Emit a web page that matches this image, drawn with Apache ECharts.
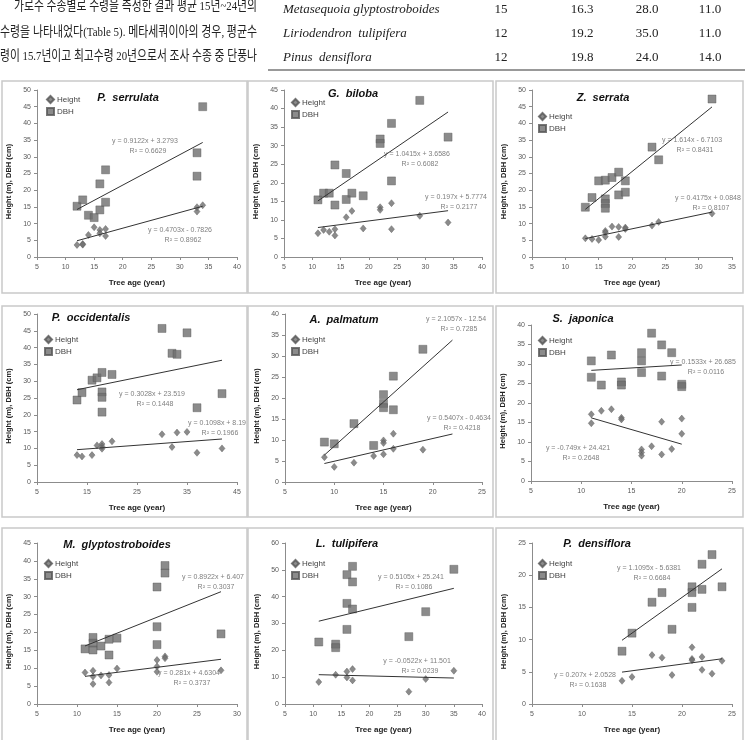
<!DOCTYPE html>
<html>
<head>
<meta charset="utf-8">
<script src="https://cdn.jsdelivr.net/npm/echarts@6/dist/echarts.min.js"></script>
<style>
  html, body { margin: 0; padding: 0; background: #fff; }
  #main { width: 745px; height: 740px; }
</style>
</head>
<body>
<div id="main"></div>
<script>
// tree age (year) -> height (m) and DBH (cm)
const serrulataHeight = [[12,3.6],[13,3.9],[13,3.7],[14,6.6],[15,8.9],[16,8.1],[16,7.1],[17,8.4],[17,6.3],[33,13.6],[33,14.9],[34,15.5]];
const serrulataDbh = [[12,15.2],[13,17.1],[14,12.5],[15,11.8],[16,14.1],[16,21.9],[17,16.4],[17,26.1],[33,31.2],[33,24.2],[34,45.0]];
const bilobaHeight = [[11,6.4],[12,7.3],[13,6.8],[14,7.5],[14,5.8],[16,10.7],[17,12.4],[19,7.7],[22,13.4],[22,12.7],[24,14.5],[24,7.5],[29,11.1],[34,9.3]];
const bilobaDbh = [[11,15.4],[12,17.2],[13,17.2],[14,14.0],[14,24.8],[16,22.5],[16,15.5],[17,17.2],[19,16.5],[22,31.8],[22,30.6],[24,36.0],[24,20.5],[29,42.2],[34,32.3]];
const serrataHeight = [[13,5.6],[14,5.4],[15,5.1],[16,7.8],[16,7.3],[16,6.1],[17,9.1],[18,9.0],[18,6.0],[19,8.8],[19,8.4],[23,9.4],[24,10.5],[32,13.0]];
const serrataDbh = [[13,14.9],[14,17.8],[15,22.8],[16,23.0],[16,17.4],[16,16.0],[16,14.6],[17,23.8],[18,25.4],[18,18.6],[19,22.8],[19,19.4],[23,32.9],[24,29.1],[32,47.3]];
const occidentalisHeight = [[13,8.0],[14,7.6],[16,8.0],[17,10.9],[18,11.3],[18,10.6],[18,9.9],[20,12.1],[30,14.2],[32,10.4],[33,14.7],[35,14.9],[37,8.7],[42,10.0]];
const occidentalisDbh = [[13,24.4],[14,26.6],[16,30.3],[17,31.0],[18,32.6],[18,26.8],[18,25.2],[18,20.8],[20,32.0],[30,45.7],[32,38.3],[33,38.0],[35,44.4],[37,22.1],[42,26.3]];
const palmatumHeight = [[9,5.9],[10,3.6],[12,4.6],[14,6.2],[15,6.6],[15,9.9],[15,9.3],[16,11.5],[16,7.9],[19,7.7]];
const palmatumDbh = [[9,9.5],[10,9.1],[12,13.9],[14,8.7],[15,20.8],[15,18.7],[15,17.7],[16,25.2],[16,17.2],[19,31.6]];
const japonicaHeight = [[11,17.1],[11,14.8],[12,18.0],[13,18.4],[14,16.2],[14,15.8],[16,8.1],[16,7.3],[16,6.5],[17,8.9],[18,15.2],[18,6.8],[19,8.2],[20,16.0],[20,12.1]];
const japonicaDbh = [[11,30.8],[11,26.6],[12,24.6],[13,32.3],[14,25.4],[14,24.6],[16,32.9],[16,30.8],[16,27.8],[17,37.9],[18,34.9],[18,26.9],[19,32.9],[20,24.8],[20,24.2]];
const glyptoHeight = [[11,8.8],[12,9.3],[12,7.7],[12,5.6],[13,8.0],[14,8.1],[14,6.0],[15,9.9],[20,12.3],[20,10.5],[20,9.0],[21,13.3],[21,12.8],[28,9.4]];
const glyptoDbh = [[11,15.4],[12,18.6],[12,17.0],[12,15.1],[13,16.2],[14,18.1],[14,13.7],[15,18.4],[20,32.7],[20,21.6],[20,16.6],[21,38.7],[21,36.6],[28,19.6]];
const tulipiferaHeight = [[11,8.2],[14,10.9],[16,12.1],[16,9.9],[17,13.0],[17,8.8],[27,4.6],[30,9.3],[35,12.4]];
const tulipiferaDbh = [[11,23.1],[14,22.3],[14,21.0],[16,48.2],[16,37.5],[16,27.8],[17,51.3],[17,45.5],[17,35.4],[27,25.1],[30,34.4],[35,50.2]];
const densifloraHeight = [[14,3.6],[15,4.2],[17,7.6],[18,7.2],[19,4.5],[21,8.8],[21,7.0],[21,6.8],[22,7.3],[22,5.3],[23,4.7],[24,6.7]];
const densifloraDbh = [[14,8.2],[15,11.0],[17,15.8],[18,17.3],[19,11.6],[21,18.2],[21,17.3],[21,15.0],[22,21.7],[22,17.8],[23,23.2],[24,18.2]];

const speciesNames = ['P.  serrulata', 'G.  biloba', 'Z.  serrata', 'P.  occidentalis', 'A.  palmatum',
  'S.  japonica', 'M.  glyptostroboides', 'L.  tulipifera', 'P.  densiflora'];

// printed linear trend lines (slope, intercept, R2)
const heightSlope = [0.4703, 0.197, 0.4175, 0.1098, 0.5407, -0.749, 0.281, -0.0522, 0.207];
const heightIntercept = [-0.7826, 5.7774, 0.0848, 8.19, -0.4634, 24.421, 4.6304, 11.501, 2.0528];
const heightR2 = ['0.8962', '0.2177', '0.8107', '0.1966', '0.4218', '0.2648', '0.3737', '0.0239', '0.1638'];
const dbhSlope = [0.9122, 1.0415, 1.614, 0.3028, 2.1057, 0.1533, 0.8922, 0.5105, 1.1095];
const dbhIntercept = [3.2793, 3.6586, -6.7103, 23.519, -12.54, 26.685, 6.407, 25.241, -5.6381];
const dbhR2 = ['0.6629', '0.6082', '0.8431', '0.1448', '0.7285', '0.0116', '0.3037', '0.1086', '0.6684'];
const trendEnd = [34, 34, 32, 42, 22, 20, 28, 35, 24];

// axis ranges
const ageMax = [40, 40, 35, 45, 25, 25, 30, 40, 25];
const ageStep = [5, 5, 5, 10, 5, 5, 5, 5, 5];
const valueMax = [50, 45, 50, 50, 40, 40, 45, 60, 25];
const valueStep = [5, 5, 5, 5, 5, 5, 5, 10, 5];

// page text above the figure
const bodyLines = ['가로수 수종별로 수령을 측정한 결과 평균 15년~24년의',
  '수령을 나타내었다(Table 5). 메타세쿼이아의 경우, 평균수',
  '령이 15.7년이고 최고수령 20년으로서 조사 수종 중 단풍나'];
const tableNames = ['Metasequoia glyptostroboides', 'Liriodendron  tulipifera', 'Pinus  densiflora'];
const tableCounts = ['15', '12', '12'];
const tableMeans = ['16.3', '19.2', '19.8'];
const tableMax = ['28.0', '35.0', '24.0'];
const tableMin = ['11.0', '11.0', '14.0'];

const heightSets = [serrulataHeight, bilobaHeight, serrataHeight, occidentalisHeight, palmatumHeight,
  japonicaHeight, glyptoHeight, tulipiferaHeight, densifloraHeight];
const dbhSets = [serrulataDbh, bilobaDbh, serrataDbh, occidentalisDbh, palmatumDbh,
  japonicaDbh, glyptoDbh, tulipiferaDbh, densifloraDbh];

// layout: plot areas [left, top, width, height], panel frames, labels
const plots = [
  [37, 90, 200, 167], [284, 90, 198, 167], [532, 90, 200, 167],
  [37, 314, 200, 168], [285, 314, 197, 168], [531, 325, 201, 156],
  [37, 543, 200, 161], [285, 543, 197, 161], [532, 543, 200, 161]
];
const frames = [
  [2, 81, 245, 212], [248, 81, 245, 212], [496, 81, 247, 212],
  [2, 306, 245, 211], [248, 306, 245, 211], [496, 306, 247, 211],
  [2, 528, 245, 220], [248, 528, 245, 220], [496, 528, 247, 220]
];
const titlePos = [[128, 98], [353, 94], [603, 98], [91, 318], [344, 320], [583, 319], [117, 545], [347, 544], [597, 544]];
const legendPos = [[46, 95], [291, 98], [538, 112], [44, 335], [291, 335], [538, 336], [44, 559], [291, 559], [538, 559]];
const dbhEqPos = [[145, 141], [417, 154], [692, 140], [152, 394], [456, 319], [703, 362], [213, 577], [411, 577], [649, 568]];
const heightEqPos = [[180, 230], [456, 197], [708, 198], [217, 423], [459, 418], [578, 448], [189, 673], [417, 661], [585, 675]];

const sans = '"Liberation Sans", Arial, sans-serif';
const markColor = '#6e6e6e';

function fmtEq(slope, intercept) {
  const sign = intercept < 0 ? ' - ' : ' + ';
  return 'y = ' + slope + 'x' + sign + Math.abs(intercept);
}

function text(x, y, str, font, fill, align, extra) {
  return Object.assign({
    type: 'text', x: x, y: y, silent: true,
    style: { text: str, font: font, fill: fill, align: align || 'center', verticalAlign: 'middle' }
  }, extra || {});
}

// justified body text: squeeze each line to the column width
const measureCtx = document.createElement('canvas').getContext('2d');
function fitScale(str, font, width) {
  measureCtx.font = font;
  return width / measureCtx.measureText(str).width;
}

const grid = [], xAxis = [], yAxis = [], series = [], legend = [], graphic = [];

for (let i = 0; i < 9; i++) {
  const p = plots[i];
  grid.push({ left: p[0], top: p[1], width: p[2], height: p[3], containLabel: false });
  xAxis.push({
    gridIndex: i, type: 'value', min: 5, max: ageMax[i], interval: ageStep[i],
    name: 'Tree age (year)', nameLocation: 'middle', nameGap: 22,
    nameTextStyle: { fontFamily: sans, fontWeight: 'bold', fontSize: 8, color: '#222' },
    axisLine: { onZero: false, lineStyle: { color: '#8c8c8c', width: 1 } },
    axisTick: { length: 3, lineStyle: { color: '#8c8c8c' } },
    axisLabel: { fontFamily: sans, fontSize: 7, color: '#595959', margin: 7 },
    splitLine: { show: false }
  });
  yAxis.push({
    gridIndex: i, type: 'value', min: 0, max: valueMax[i], interval: valueStep[i],
    axisLine: { show: true, lineStyle: { color: '#8c8c8c', width: 1 } },
    axisTick: { show: true, length: 3, lineStyle: { color: '#8c8c8c' } },
    axisLabel: { fontFamily: sans, fontSize: 7, color: '#595959', margin: 6 },
    splitLine: { show: false }
  });

  const hs = heightSets[i], ds = dbhSets[i];
  const startH = Math.min.apply(null, hs.map(d => d[0]));
  const startD = Math.min.apply(null, ds.map(d => d[0]));
  const end = trendEnd[i];

  series.push({
    name: 'DBH', type: 'scatter', xAxisIndex: i, yAxisIndex: i, data: ds,
    symbol: 'rect', symbolSize: 8, silent: true,
    itemStyle: { color: markColor, borderColor: '#555', borderWidth: 0.5 }
  });
  series.push({
    name: 'Height', type: 'scatter', xAxisIndex: i, yAxisIndex: i, data: hs,
    symbol: 'diamond', symbolSize: [6, 7], silent: true,
    itemStyle: { color: markColor, borderColor: '#555', borderWidth: 0.5 }
  });
  series.push({
    name: 'DBH trend', type: 'line', xAxisIndex: i, yAxisIndex: i, symbol: 'none', silent: true,
    data: [[startD, dbhSlope[i] * startD + dbhIntercept[i]], [end, dbhSlope[i] * end + dbhIntercept[i]]],
    lineStyle: { color: '#333', width: 1 }, z: 3
  });
  series.push({
    name: 'Height trend', type: 'line', xAxisIndex: i, yAxisIndex: i, symbol: 'none', silent: true,
    data: [[startH, heightSlope[i] * startH + heightIntercept[i]], [end, heightSlope[i] * end + heightIntercept[i]]],
    lineStyle: { color: '#333', width: 1 }, z: 3
  });

  legend.push({
    left: legendPos[i][0], top: legendPos[i][1], orient: 'vertical', selectedMode: false,
    itemWidth: 7, itemHeight: 7, itemGap: 3, padding: 0,
    textStyle: { fontFamily: sans, fontSize: 8, color: '#444', padding: [0, 0, 0, -2] },
    data: [{ name: 'Height', icon: 'diamond' }, { name: 'DBH', icon: 'rect' }]
  });

  const f = frames[i];
  graphic.push({
    type: 'rect', silent: true, z: -1,
    shape: { x: f[0], y: f[1], width: f[2], height: f[3] },
    style: { fill: 'none', stroke: '#c9c9c9', lineWidth: 1.5 }
  });
  // y-axis title, sitting a little below the plot centre as in the scan
  graphic.push(text(p[0] - 28, p[1] + p[3] / 2 + 8, 'Height (m), DBH (cm)', 'bold 7.5px ' + sans, '#222', 'center',
    { rotation: Math.PI / 2 }));
  graphic.push(text(titlePos[i][0], titlePos[i][1], speciesNames[i], 'italic bold 11px ' + sans, '#111'));
  const eqFont = '7px ' + sans;
  graphic.push(text(dbhEqPos[i][0], dbhEqPos[i][1], fmtEq(dbhSlope[i], dbhIntercept[i]), eqFont, '#7f7f7f'));
  graphic.push(text(dbhEqPos[i][0] + 3, dbhEqPos[i][1] + 10, 'R² = ' + dbhR2[i], eqFont, '#7f7f7f'));
  graphic.push(text(heightEqPos[i][0], heightEqPos[i][1], fmtEq(heightSlope[i], heightIntercept[i]), eqFont, '#7f7f7f'));
  graphic.push(text(heightEqPos[i][0] + 3, heightEqPos[i][1] + 10, 'R² = ' + heightR2[i], eqFont, '#7f7f7f'));
}

// header: running text and the end of Table 5
const serif = '"Liberation Serif", "Times New Roman", serif';
const bodyFont = '13.5px "Liberation Serif", "Noto Sans CJK KR", serif';
const bodyY = [6, 32, 56];
const bodyStart = [14, 0, 0];
bodyLines.forEach((line, k) => {
  const sx = fitScale(line, bodyFont, 257 - bodyStart[k]);
  graphic.push(text(bodyStart[k], bodyY[k], line, bodyFont, '#222', 'left', { scaleX: sx }));
});
const rowY = [10, 34, 58];
for (let k = 0; k < 3; k++) {
  graphic.push(text(283, rowY[k], tableNames[k], 'italic 13px ' + serif, '#222', 'left'));
  graphic.push(text(501, rowY[k], tableCounts[k], '13px ' + serif, '#222'));
  graphic.push(text(582, rowY[k], tableMeans[k], '13px ' + serif, '#222'));
  graphic.push(text(647, rowY[k], tableMax[k], '13px ' + serif, '#222'));
  graphic.push(text(710, rowY[k], tableMin[k], '13px ' + serif, '#222'));
}
graphic.push({
  type: 'line', silent: true,
  shape: { x1: 268, y1: 70, x2: 745, y2: 70 },
  style: { stroke: '#777', lineWidth: 1.5 }
});

const chart = echarts.init(document.getElementById('main'), null, { renderer: 'canvas' });
chart.setOption({
  backgroundColor: '#fff',
  animation: false,
  grid: grid,
  xAxis: xAxis,
  yAxis: yAxis,
  legend: legend,
  series: series,
  graphic: graphic
});
</script>
</body>
</html>
